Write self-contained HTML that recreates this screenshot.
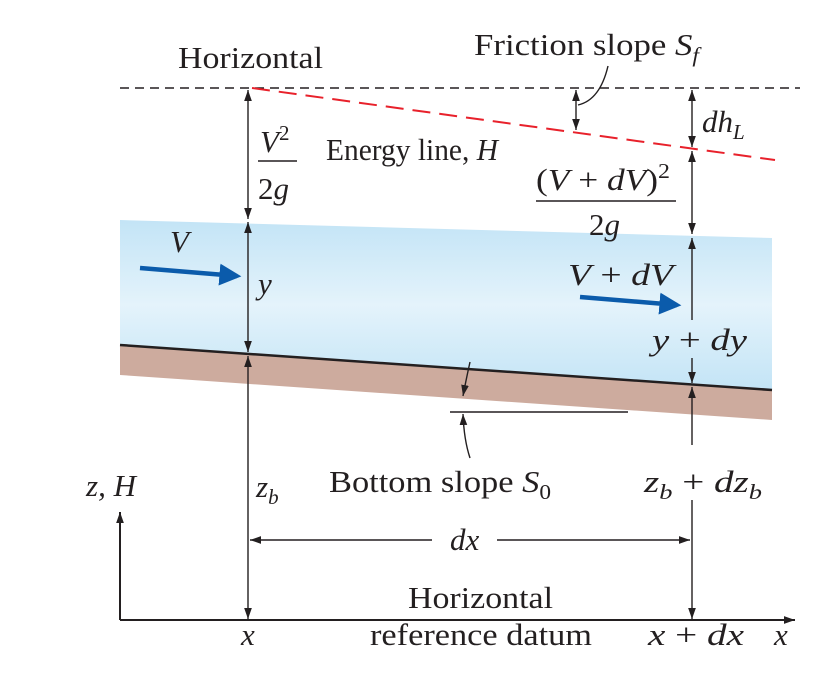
<!DOCTYPE html>
<html><head><meta charset="utf-8"><style>
html,body{margin:0;padding:0;background:#fff;}
svg{display:block;}
text{font-family:"Liberation Serif",serif;fill:#231f20;font-size:31px;}
.i{font-style:italic;}
</style></head><body>
<svg width="821" height="681" viewBox="0 0 821 681">
<defs>
<marker id="ah" viewBox="0 0 10 10" refX="10" refY="5" markerWidth="11" markerHeight="11" markerUnits="userSpaceOnUse" orient="auto-start-reverse"><path d="M0,1.5 L10,5 L0,8.5 Z" fill="#231f20"/></marker>
<marker id="ab" viewBox="0 0 10 10" refX="8" refY="5" markerWidth="22" markerHeight="22" markerUnits="userSpaceOnUse" orient="auto"><path d="M0,0 L10,5 L0,10 Z" fill="#0b5bab"/></marker>
<linearGradient id="wg" x1="0" y1="0" x2="0" y2="1"><stop offset="0" stop-color="#c3e4f6"/><stop offset="0.5" stop-color="#e4f3fb"/><stop offset="1" stop-color="#c3e4f6"/></linearGradient>
</defs>
<polygon points="120,220 772,238 772,390 120,345" fill="url(#wg)"/>
<polygon points="120,345 772,390 772,420 120,375" fill="#cdab9e"/>
<line x1="120" y1="345" x2="772" y2="390" stroke="#231f20" stroke-width="2.5"/>
<line x1="120" y1="88" x2="800" y2="88" stroke="#231f20" stroke-width="1.6" stroke-dasharray="9,6"/>
<line x1="252" y1="88" x2="775" y2="160" stroke="#e8212b" stroke-width="2" stroke-dasharray="18,9"/>
<g stroke="#231f20" stroke-width="1.4" fill="none">
<line x1="248" y1="90" x2="248" y2="219" marker-start="url(#ah)" marker-end="url(#ah)"/>
<line x1="248" y1="222" x2="248" y2="352" marker-start="url(#ah)" marker-end="url(#ah)"/>
<line x1="248" y1="356" x2="248" y2="619" marker-start="url(#ah)" marker-end="url(#ah)"/>
<line x1="692" y1="90" x2="692" y2="147" marker-start="url(#ah)" marker-end="url(#ah)"/>
<line x1="692" y1="151" x2="692" y2="234" marker-start="url(#ah)" marker-end="url(#ah)"/>
<line x1="692" y1="320" x2="692" y2="238" marker-end="url(#ah)"/>
<line x1="692" y1="358" x2="692" y2="383" marker-end="url(#ah)"/>
<line x1="692" y1="445" x2="692" y2="387" marker-end="url(#ah)"/>
<line x1="692" y1="500" x2="692" y2="619" marker-end="url(#ah)"/>
<line x1="432" y1="540" x2="250" y2="540" marker-end="url(#ah)"/>
<line x1="497" y1="540" x2="690" y2="540" marker-end="url(#ah)"/>
<line x1="576" y1="90" x2="576" y2="130" marker-start="url(#ah)" marker-end="url(#ah)"/>
<path d="M608,66 Q600,100 578,105"/>
<path d="M470,362 Q466,380 463,396" marker-end="url(#ah)"/>
<path d="M470,458 Q464,440 463,414" marker-end="url(#ah)"/>
<line x1="450" y1="412" x2="628" y2="412"/>
<line x1="258" y1="161" x2="297" y2="161"/>
<line x1="536" y1="201" x2="676" y2="201" stroke-width="1.6"/>
</g>
<g stroke="#231f20" stroke-width="2" fill="none">
<line x1="120" y1="620" x2="795" y2="620" marker-end="url(#ah)"/>
<line x1="120" y1="620" x2="120" y2="512" marker-end="url(#ah)"/>
</g>
<line x1="140" y1="268" x2="237" y2="276" stroke="#0b5bab" stroke-width="4.5" marker-end="url(#ab)"/>
<line x1="580" y1="297" x2="677" y2="305" stroke="#0b5bab" stroke-width="4.5" marker-end="url(#ab)"/>
<text x="178" y="68" textLength="145" lengthAdjust="spacingAndGlyphs">Horizontal</text>
<text x="474" y="55" textLength="225" lengthAdjust="spacingAndGlyphs">Friction slope <tspan class="i">S</tspan><tspan class="i" font-size="21" dy="7">f</tspan></text>
<text x="260" y="152" class="i">V<tspan font-size="21" dy="-12" font-style="normal">2</tspan></text>
<text x="258" y="199">2<tspan class="i">g</tspan></text>
<text x="326" y="160" textLength="172" lengthAdjust="spacingAndGlyphs">Energy line, <tspan class="i">H</tspan></text>
<text x="702" y="132" class="i">dh<tspan font-size="21" dy="7">L</tspan></text>
<text x="536" y="190" textLength="134" lengthAdjust="spacingAndGlyphs">(<tspan class="i">V</tspan> + <tspan class="i">dV</tspan>)<tspan font-size="21" dy="-12">2</tspan></text>
<text x="589" y="235">2<tspan class="i">g</tspan></text>
<text x="170" y="252" class="i">V</text>
<text x="258" y="294" class="i">y</text>
<text x="568" y="285" textLength="105" lengthAdjust="spacingAndGlyphs"><tspan class="i">V</tspan> + <tspan class="i">dV</tspan></text>
<text x="652" y="350" textLength="95" lengthAdjust="spacingAndGlyphs"><tspan class="i">y</tspan> + <tspan class="i">dy</tspan></text>
<text x="329" y="492" textLength="222" lengthAdjust="spacingAndGlyphs">Bottom slope <tspan class="i">S</tspan><tspan font-size="21" dy="7">0</tspan></text>
<text x="256" y="497" class="i">z<tspan font-size="21" dy="7">b</tspan></text>
<text x="644" y="492" class="i" textLength="118" lengthAdjust="spacingAndGlyphs">z<tspan font-size="21" dy="7">b</tspan><tspan dy="-7" font-style="normal"> + </tspan>dz<tspan font-size="21" dy="7">b</tspan></text>
<text x="86" y="496" class="i">z, H</text>
<text x="450" y="550" class="i">dx</text>
<text x="408" y="608" textLength="145" lengthAdjust="spacingAndGlyphs">Horizontal</text>
<text x="370" y="645" textLength="222" lengthAdjust="spacingAndGlyphs">reference datum</text>
<text x="241" y="645" class="i">x</text>
<text x="648" y="645" class="i" textLength="96" lengthAdjust="spacingAndGlyphs">x <tspan font-style="normal">+</tspan> dx</text>
<text x="774" y="645" class="i">x</text>
</svg>
</body></html>
